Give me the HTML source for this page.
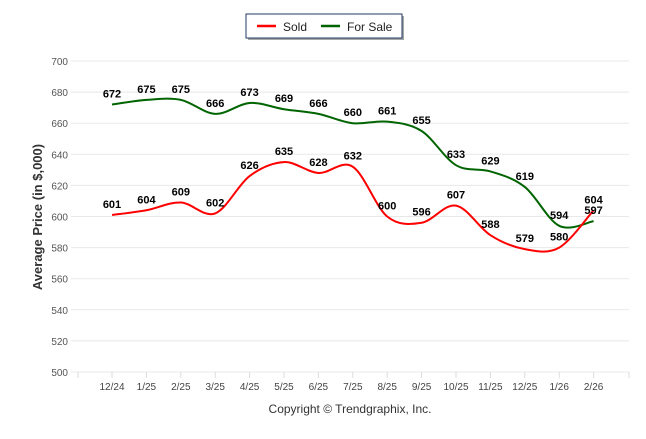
<!DOCTYPE html>
<html><head><meta charset="utf-8"><style>
body{margin:0;background:#fff;font-family:"Liberation Sans",sans-serif}
svg text{font-family:"Liberation Sans",sans-serif}
</style></head><body>
<svg id="c" width="646" height="434">
<g>
<rect x="246" y="14" width="156" height="24" fill="#000" opacity="0.35" transform="translate(2,2)"/>
<rect x="246" y="14" width="156" height="24" fill="#fff" stroke="#1f3864" stroke-width="1"/>
<line x1="257" y1="26" x2="276" y2="26" stroke="#ff0000" stroke-width="2.5"/>
<text x="283" y="31" font-size="12" fill="#222">Sold</text>
<line x1="321" y1="26" x2="340" y2="26" stroke="#006400" stroke-width="2.5"/>
<text x="347" y="31" font-size="12" fill="#222">For Sale</text>
</g>
<text transform="translate(42,217) rotate(-90)" text-anchor="middle" font-size="13" font-weight="bold" fill="#333">Average Price (in $,000)</text>
<text x="350" y="413" text-anchor="middle" font-size="12" fill="#333">Copyright © Trendgraphix, Inc.</text>
<g id="grid"></g><g id="axis"></g><g id="lines"></g><g id="labels"></g>
</svg>
<script>
const categories=["12/24","1/25","2/25","3/25","4/25","5/25","6/25","7/25","8/25","9/25","10/25","11/25","12/25","1/26","2/26"];
const sold=[601,604,609,602,626,635,628,632,600,596,607,588,579,580,604];
const forSale=[672,675,675,666,673,669,666,660,661,655,633,629,619,594,597];
const yTicks=[500,520,540,560,580,600,620,640,660,680,700];
const NS="http://www.w3.org/2000/svg";
function X(i){return 112+i*34.4;}
function Y(v){return 372-(v-500)*311/200;}
function mk(t,a,p){const e=document.createElementNS(NS,t);for(const k in a)e.setAttribute(k,a[k]);p.appendChild(e);return e;}
const grid=document.getElementById('grid'),axis=document.getElementById('axis'),lines=document.getElementById('lines'),labels=document.getElementById('labels');
yTicks.forEach(v=>{
 const l=mk('line',{x1:71,x2:629,y1:Y(v),y2:Y(v),stroke:'#e8e8e8','stroke-width':1},grid);
 
 
 const t=mk('text',{x:68,y:Y(v)+4,'text-anchor':'end','font-size':10,fill:'#555'},axis);
 t.textContent=v;
 
 
});
[78,629].forEach(x=>{const tk=mk('line',{x1:x,x2:x,y1:372,y2:378,stroke:'#ddd'},axis);
 
 });
categories.forEach((c,i)=>{
 const tk=mk('line',{x1:X(i),x2:X(i),y1:372,y2:378,stroke:'#ddd'},axis);
 
 
 const t=mk('text',{x:X(i),y:390,'text-anchor':'middle','font-size':10,fill:'#444'},axis);
 t.textContent=c;
 
 
});
function path(vals){
 const p=vals.map((v,i)=>[X(i),Y(v)]);let d='M'+p[0][0]+','+p[0][1];
 for(let i=0;i<p.length-1;i++){const p0=p[i-1]||p[i],p1=p[i],p2=p[i+1],p3=p[i+2]||p2;const k=6;
  d+=' C'+(p1[0]+(p2[0]-p0[0])/k)+','+(p1[1]+(p2[1]-p0[1])/k)+' '+(p2[0]-(p3[0]-p1[0])/k)+','+(p2[1]-(p3[1]-p1[1])/k)+' '+p2[0]+','+p2[1];}
 return d;}
[[forSale,'#006400','for-sale-line'],[sold,'#ff0000','sold-line']].forEach(([vals,col,name])=>{
 const e=mk('path',{d:path(vals),fill:'none',stroke:col,'stroke-width':2},lines);
 
 
 vals.forEach((v,i)=>{
  const t=mk('text',{x:X(i),y:Y(v)-7,'text-anchor':'middle','font-size':11,'font-weight':'bold',fill:'#000'},labels);
  t.textContent=v;
  
  
 });
});
</script>
</body></html>
